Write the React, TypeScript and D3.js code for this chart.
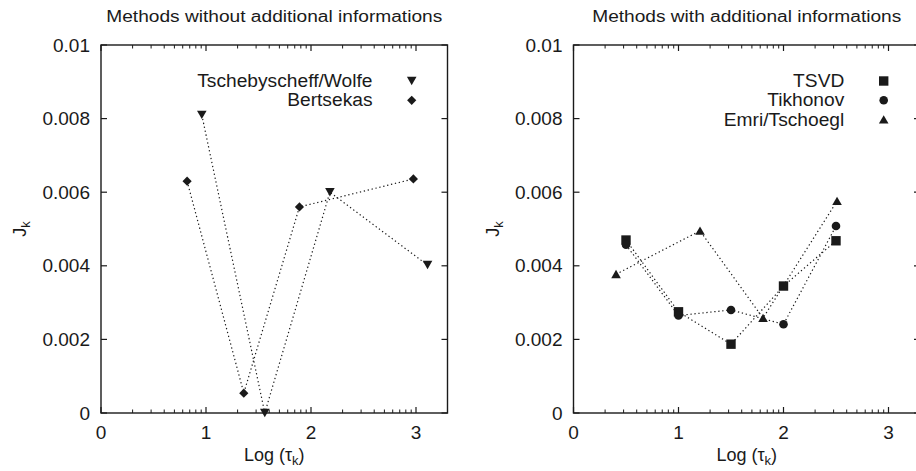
import React from "react";
import * as d3 from "d3";

// log(tau_k) against J_k
const tschX = [0.96, 1.56, 2.18, 3.11];
const tschY = [0.0081, 0.0, 0.006, 0.00402];
const bertX = [0.82, 1.36, 1.89, 2.975];
const bertY = [0.0063, 0.00054, 0.0056, 0.00636];

const tsvdX = [0.5, 1.0, 1.5, 2.0, 2.5];
const tsvdY = [0.0047, 0.00275, 0.00187, 0.00345, 0.00468];
const tikhX = [0.5, 1.0, 1.5, 2.0, 2.5];
const tikhY = [0.00457, 0.00265, 0.0028, 0.00241, 0.00508];
const emriX = [0.405, 1.205, 1.805, 2.51];
const emriY = [0.00377, 0.00495, 0.00258, 0.00576];

const yTicks = [0, 0.002, 0.004, 0.006, 0.008, 0.01];
const yTickLabels = ["0", "0.002", "0.004", "0.006", "0.008", "0.01"];
const xTicks = [0, 1, 2, 3];

const FONT = "'Liberation Sans', Arial, Helvetica, sans-serif";
const INK = "#1a1a1a";

type Series = { name: string; xs: number[]; ys: number[]; marker: string };

const marker = (kind: string, x: number, y: number, key: string) => {
  if (kind === "down")
    return <path key={key} d={`M${x - 4.8},${y - 4.2}L${x + 4.8},${y - 4.2}L${x},${y + 4.2}Z`} fill={INK} />;
  if (kind === "up")
    return <path key={key} d={`M${x - 4.8},${y + 4}L${x + 4.8},${y + 4}L${x},${y - 4.4}Z`} fill={INK} />;
  if (kind === "diamond")
    return <path key={key} d={`M${x},${y - 4.6}L${x + 4.6},${y}L${x},${y + 4.6}L${x - 4.6},${y}Z`} fill={INK} />;
  if (kind === "square")
    return <rect key={key} x={x - 4.7} y={y - 4.7} width={9.4} height={9.4} fill={INK} />;
  return <circle key={key} cx={x} cy={y} r={4.3} fill={INK} />;
};

const Panel = ({ x0, title, titleLen, series, legendTextX, legendMarkX }: {
  x0: number; title: string; titleLen: number; series: Series[]; legendTextX: number; legendMarkX: number;
}) => {
  const x = d3.scaleLinear().domain([0, 3.3]).range([x0, x0 + 346.5]);
  const y = d3.scaleLinear().domain([0, 0.01]).range([413, 45]);
  const [xl, xr] = x.range();
  const [yb, yt] = y.range();
  const minor: number[] = [];
  for (let d = 0; d < 4; d++)
    for (let k = 2; k <= 9; k++) {
      const v = d + Math.log10(k);
      if (v < 3.3) minor.push(v);
    }
  const cx = (xl + xr) / 2;

  return (
    <g>
      <text x={cx - titleLen / 2} y={22} fontSize={16} fill={INK} textLength={titleLen}
        lengthAdjust="spacingAndGlyphs">{title}</text>
      {/* frame */}
      <rect x={xl} y={yt} width={xr - xl} height={yb - yt} fill="none" stroke={INK} strokeWidth={1.4} />
      {/* y ticks, both sides */}
      {yTicks.map((t, i) => (
        <g key={"y" + i}>
          <line x1={xl} x2={xl + 6} y1={y(t)} y2={y(t)} stroke={INK} strokeWidth={1.2} />
          <line x1={xr} x2={xr - 6} y1={y(t)} y2={y(t)} stroke={INK} strokeWidth={1.2} />
          <text x={xl - 11} y={y(t) + 6.5} textAnchor="end" fontSize={19} fill={INK}>{yTickLabels[i]}</text>
        </g>
      ))}
      {/* x ticks, log minors, bottom and top */}
      {xTicks.map((t) => (
        <g key={"x" + t}>
          <line x1={x(t)} x2={x(t)} y1={yb} y2={yb - 6} stroke={INK} strokeWidth={1.2} />
          <line x1={x(t)} x2={x(t)} y1={yt} y2={yt + 6} stroke={INK} strokeWidth={1.2} />
          <text x={x(t)} y={439} textAnchor="middle" fontSize={19} fill={INK}>{t}</text>
        </g>
      ))}
      {minor.map((t, i) => (
        <g key={"m" + i}>
          <line x1={x(t)} x2={x(t)} y1={yb} y2={yb - 3.5} stroke={INK} strokeWidth={1} />
          <line x1={x(t)} x2={x(t)} y1={yt} y2={yt + 3.5} stroke={INK} strokeWidth={1} />
        </g>
      ))}
      {/* axis labels */}
      <text x={cx} y={461} textAnchor="middle" fontSize={18} fill={INK}>
        Log (τ<tspan fontSize={13} dy={4}>k</tspan><tspan dy={-4}>)</tspan>
      </text>
      <text transform={`translate(${xl - 75},229) rotate(-90)`} textAnchor="middle" fontSize={18} fill={INK}>
        J<tspan fontSize={13} dy={4}>k</tspan>
      </text>
      {/* series */}
      {series.map((s, si) => {
        const pts = s.xs.map((v, i) => [x(v), y(s.ys[i])] as [number, number]);
        const path = d3.line()(pts) || "";
        return (
          <g key={s.name}>
            <path d={path} fill="none" stroke={INK} strokeWidth={1.2} strokeDasharray="1.3 2.7" />
            {pts.map((p, i) => marker(s.marker, p[0], p[1], s.name + i))}
            <text x={legendTextX} y={87 + si * 19.3} textAnchor="end" fontSize={19.2} fill={INK}>{s.name}</text>
            {marker(s.marker, legendMarkX, 81 + si * 19.3, s.name + "L")}
          </g>
        );
      })}
    </g>
  );
};

export default function App() {
  return (
    <svg width={916} height={471} style={{ position: "absolute", left: 0, top: 0, background: "#fff" }}
      fontFamily={FONT}>
      <rect width={916} height={471} fill="#fff" />
      <Panel x0={101} title="Methods without additional informations" titleLen={336}
        legendTextX={372.5} legendMarkX={411.7}
        series={[
          { name: "Tschebyscheff/Wolfe", xs: tschX, ys: tschY, marker: "down" },
          { name: "Bertsekas", xs: bertX, ys: bertY, marker: "diamond" },
        ]} />
      <Panel x0={573.5} title="Methods with additional informations" titleLen={309}
        legendTextX={844.3} legendMarkX={883.7}
        series={[
          { name: "TSVD", xs: tsvdX, ys: tsvdY, marker: "square" },
          { name: "Tikhonov", xs: tikhX, ys: tikhY, marker: "circle" },
          { name: "Emri/Tschoegl", xs: emriX, ys: emriY, marker: "up" },
        ]} />
    </svg>
  );
}
